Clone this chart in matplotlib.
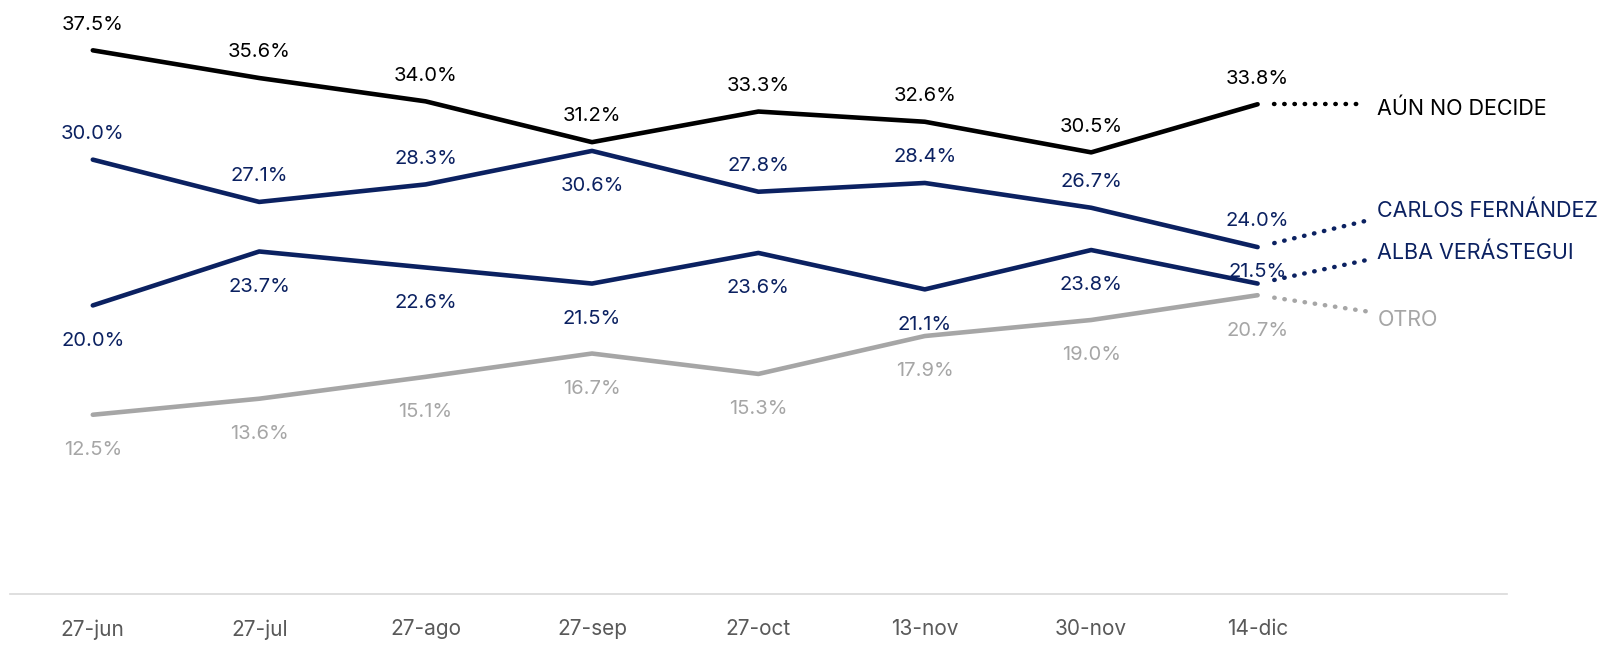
import matplotlib
matplotlib.use("Agg")
import matplotlib.pyplot as plt

plt.rcParams["font.family"] = ["Inter", "DejaVu Sans"]

dates = ["27-jun", "27-jul", "27-ago", "27-sep", "27-oct", "13-nov", "30-nov", "14-dic"]

aun_no_decide = [37.5, 35.6, 34.0, 31.2, 33.3, 32.6, 30.5, 33.8]
carlos_fernandez = [30.0, 27.1, 28.3, 30.6, 27.8, 28.4, 26.7, 24.0]
alba_verastegui = [20.0, 23.7, 22.6, 21.5, 23.6, 21.1, 23.8, 21.5]
otro = [12.5, 13.6, 15.1, 16.7, 15.3, 17.9, 19.0, 20.7]

names = ["AÚN NO DECIDE", "CARLOS FERNÁNDEZ", "ALBA VERÁSTEGUI", "OTRO"]
series = [aun_no_decide, carlos_fernandez, alba_verastegui, otro]
colors = ["#000000", "#0b2161", "#0b2161", "#a6a6a6"]
# label above (+1) or below (-1) each point; 2 = tight above
label_side = [
    [1] * 8,
    [1, 1, 1, -1, 1, 1, 1, 1],
    [-1, -1, -1, -1, -1, -1, -1, 2],
    [-1] * 8,
]
# where the dotted leader ends and the name sits
end_y = [33.8, 25.8, 23.1, 19.6]
name_y = [33.5, 26.5, 23.6, 19.0]

fig = plt.figure(figsize=(16, 6.45), dpi=100)
ax = fig.add_axes([0.006, 0.079, 0.936, 0.904])

x = list(range(len(dates)))
last = len(dates) - 1
offsets = {1: (12, "bottom"), 2: (2, "bottom"), -1: (-19, "top")}
for vals, name, c, sides, ey, ny in zip(series, names, colors, label_side, end_y, name_y):
    ax.plot(x, vals, color=c, lw=3.3, solid_capstyle="round", zorder=3)
    ax.plot([last + 0.1, 7.65], [vals[-1] + (ey - vals[-1]) * 0.1 / 0.65, ey],
            color=c, lw=3.2, linestyle=(0, (0.1, 2.2)), dash_capstyle="round",
            clip_on=False)
    ax.text(7.72, ny, name, color=c, fontsize=15.5, va="center", ha="left",
            clip_on=False)
    for xi, v, s in zip(x, vals, sides):
        dy, va = offsets[s]
        ax.annotate(f"{v:.1f}%", (xi, v), xytext=(0, dy),
                    textcoords="offset points", ha="center", va=va,
                    color=c, fontsize=14.5)

ax.set_xlim(-0.5, 8.5)
ax.set_ylim(0.2, 40.2)
ax.set_xticks(x)
ax.set_xticklabels(dates, fontsize=15, color="#595959")
ax.tick_params(axis="x", length=0, pad=18)
ax.set_yticks([])
for side in ["top", "right", "left"]:
    ax.spines[side].set_visible(False)
ax.spines["bottom"].set_color("#d9d9d9")
ax.spines["bottom"].set_linewidth(1.2)

fig.savefig("out.png", dpi=100)
